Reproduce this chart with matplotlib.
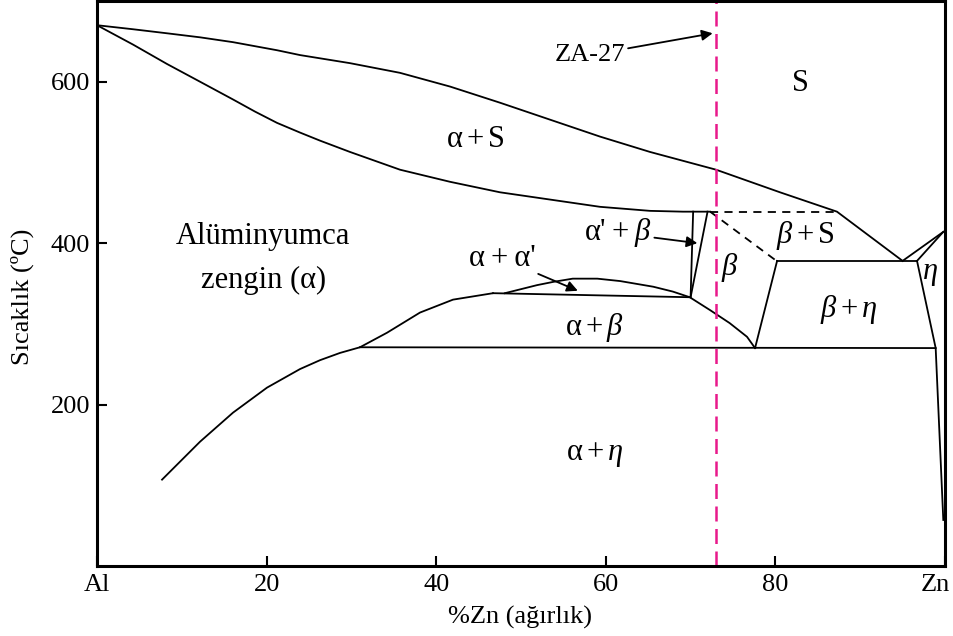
"""
Al-Zn phase diagram with the ZA-27 composition marked.
"""

import matplotlib
matplotlib.use('Agg')
import matplotlib.pyplot as plt
from matplotlib.transforms import ScaledTranslation

# Composition (%Zn) and temperature (C)
liq_zn = [0, 4.25, 8.25, 12.15, 16.04, 21.23, 23.94, 29.83, 35.73, 41.63,
          47.52, 53.42, 59.32, 65.21, 73.0, 80.54, 87.26, 95.0]
liq_t = [670, 665, 660, 655, 649, 639, 633, 623, 611, 594,
         574, 553, 532, 513, 491, 463, 439, 378]

zn_liq_zn = [95.0, 99.8]
zn_liq_t = [378, 414]

sol_zn = [0, 4.25, 8.25, 12.15, 16.04, 18.63, 21.23, 23.94, 26.3, 29.83,
          35.73, 41.63, 47.52, 53.42, 59.32, 65.21, 69.1, 72.3]
sol_t = [670, 646, 622, 600, 578, 563, 549, 537, 527, 513,
         491, 476, 463, 454, 445, 440, 439, 439]

solvus_zn = [7.67, 12.15, 16.04, 20.05, 23.94, 26.3, 28.66, 31.01, 34.2,
             38.09, 41.98, 46.7]
solvus_t = [107, 154, 190, 221, 244, 255, 264, 271, 289, 314, 330, 338]

mono_zn = [46.7, 69.9]
mono_t = [338, 333]

dome_zn = [48.1, 51.9, 53.8, 56.1, 59.0, 61.7, 65.6, 67.9, 69.9, 72.3,
           74.6, 76.65, 77.6]
dome_t = [338, 348, 352, 356, 356, 353, 346, 340, 333, 317, 301, 284, 270]

ap1_zn = [70.3, 70.0]
ap1_t = [439, 333]
ap2_zn = [72.0, 70.0]
ap2_t = [439, 333]

eutd_zn = [31.0, 98.9]
eutd_t = [271, 270]

beta_r_zn = [77.6, 80.2]
beta_r_t = [270, 378]

eut_zn = [80.2, 96.7]
eut_t = [378, 378]

eta_zn = [96.7, 98.9, 99.8]
eta_t = [378, 270, 57]

eta_top_zn = [96.7, 99.8]
eta_top_t = [378, 414]

peri_zn = [72.3, 87.3]
peri_t = [439, 439]

beta_l_zn = [72.3, 80.0]
beta_l_t = [439, 379]

za27 = 73.0

x_ticks = [0, 20, 40, 60, 80, 100]
x_ticklabels = ['Al', '20', '40', '60', '80', 'Zn']
y_ticks = [200, 400, 600]

plt.rcParams['font.family'] = ['Liberation Serif', 'DejaVu Serif']
plt.rcParams['mathtext.fontset'] = 'custom'
plt.rcParams['mathtext.rm'] = 'Liberation Serif'
plt.rcParams['mathtext.it'] = 'Liberation Serif:italic'

fig = plt.figure(figsize=(9.54, 6.36), dpi=100)
ax = fig.add_axes([97 / 954, 70 / 636, 848 / 954, 565 / 636])

lw = 1.3
solid = [
    (liq_zn, liq_t), (zn_liq_zn, zn_liq_t), (sol_zn, sol_t),
    (solvus_zn, solvus_t), (mono_zn, mono_t), (dome_zn, dome_t),
    (ap1_zn, ap1_t), (ap2_zn, ap2_t), (eutd_zn, eutd_t),
    (beta_r_zn, beta_r_t), (eut_zn, eut_t), (eta_zn, eta_t),
    (eta_top_zn, eta_top_t),
]
for xs, ys in solid:
    ax.plot(xs, ys, color='black', lw=lw, solid_joinstyle='round')

# Peritectic lines (dashed)
ax.plot(peri_zn, peri_t, color='black', lw=lw, dashes=(4.5, 3.5))
ax.plot(beta_l_zn, beta_l_t, color='black', lw=lw, dashes=(4.5, 3.5))

# ZA-27 composition
ax.axvline(za27, color='#e8198b', lw=1.8, dashes=(6, 3))

# Phase labels
lab = dict(fontsize=22, ha='center', va='center')
ax.text(82.9, 598, 'S', **lab)
ax.text(44.6, 528, r'$\mathrm{α}+\mathrm{S}$', **lab)
ax.text(19.6, 408, 'Alüminyumca', **lab)
ax.text(19.6, 354, 'zengin (α)', **lab)
ax.text(74.6, 370, r'$\mathit{β}$', **lab)
ax.text(83.5, 410, r'$\mathit{β}+\mathrm{S}$', **lab)
ax.text(88.7, 318, r'$\mathit{β}+\mathit{η}$', **lab)
ax.text(98.2, 362, r'$\mathit{η}$', **lab)
ax.text(58.7, 295, r'$\mathrm{α}+\mathit{β}$', **lab)
ax.text(58.7, 138, r'$\mathrm{α}+\mathit{η}$', **lab)

arrow = dict(arrowstyle='-|>', color='black', lw=1.3, mutation_scale=16,
             shrinkA=0, shrinkB=0)
ax.annotate("α'\u2009+\u2009" + r'$\mathit{β}$', xy=(70.8, 400),
            xytext=(65.4, 412.6), fontsize=22, ha='right', va='center',
            arrowprops=arrow)
ax.annotate("α\u2009+\u2009α'", xy=(56.7, 341), xytext=(51.7, 363),
            fontsize=22, ha='right', va='bottom', arrowprops=arrow)
ax.annotate('ZA-27', xy=(72.6, 660), xytext=(62.3, 633),
            fontsize=19, ha='right', va='center', arrowprops=arrow)

ax.set_xlim(0, 100)
ax.set_ylim(0, 700)
ax.set_xticks(x_ticks)
ax.set_xticklabels(x_ticklabels)
ax.set_yticks(y_ticks)
ax.tick_params(direction='in', length=7, width=1.5, labelsize=19)
ax.tick_params(axis='x', pad=6)
ax.tick_params(axis='y', pad=5)
for s in ax.spines.values():
    s.set_linewidth(2.2)

# keep "Zn" inside the figure, as in the reference
zn_lab = ax.get_xticklabels()[-1]
zn_lab.set_transform(zn_lab.get_transform()
                     + ScaledTranslation(-10 / 100, 0, fig.dpi_scale_trans))

ax.set_xlabel('%Zn (ağırlık)', fontsize=19)
ax.set_ylabel('Sıcaklık (ºC)', fontsize=19)
ax.xaxis.set_label_coords(0.499, -0.070)
ax.yaxis.set_label_coords(-0.074, 0.476)

fig.savefig('out.png', dpi=100)
